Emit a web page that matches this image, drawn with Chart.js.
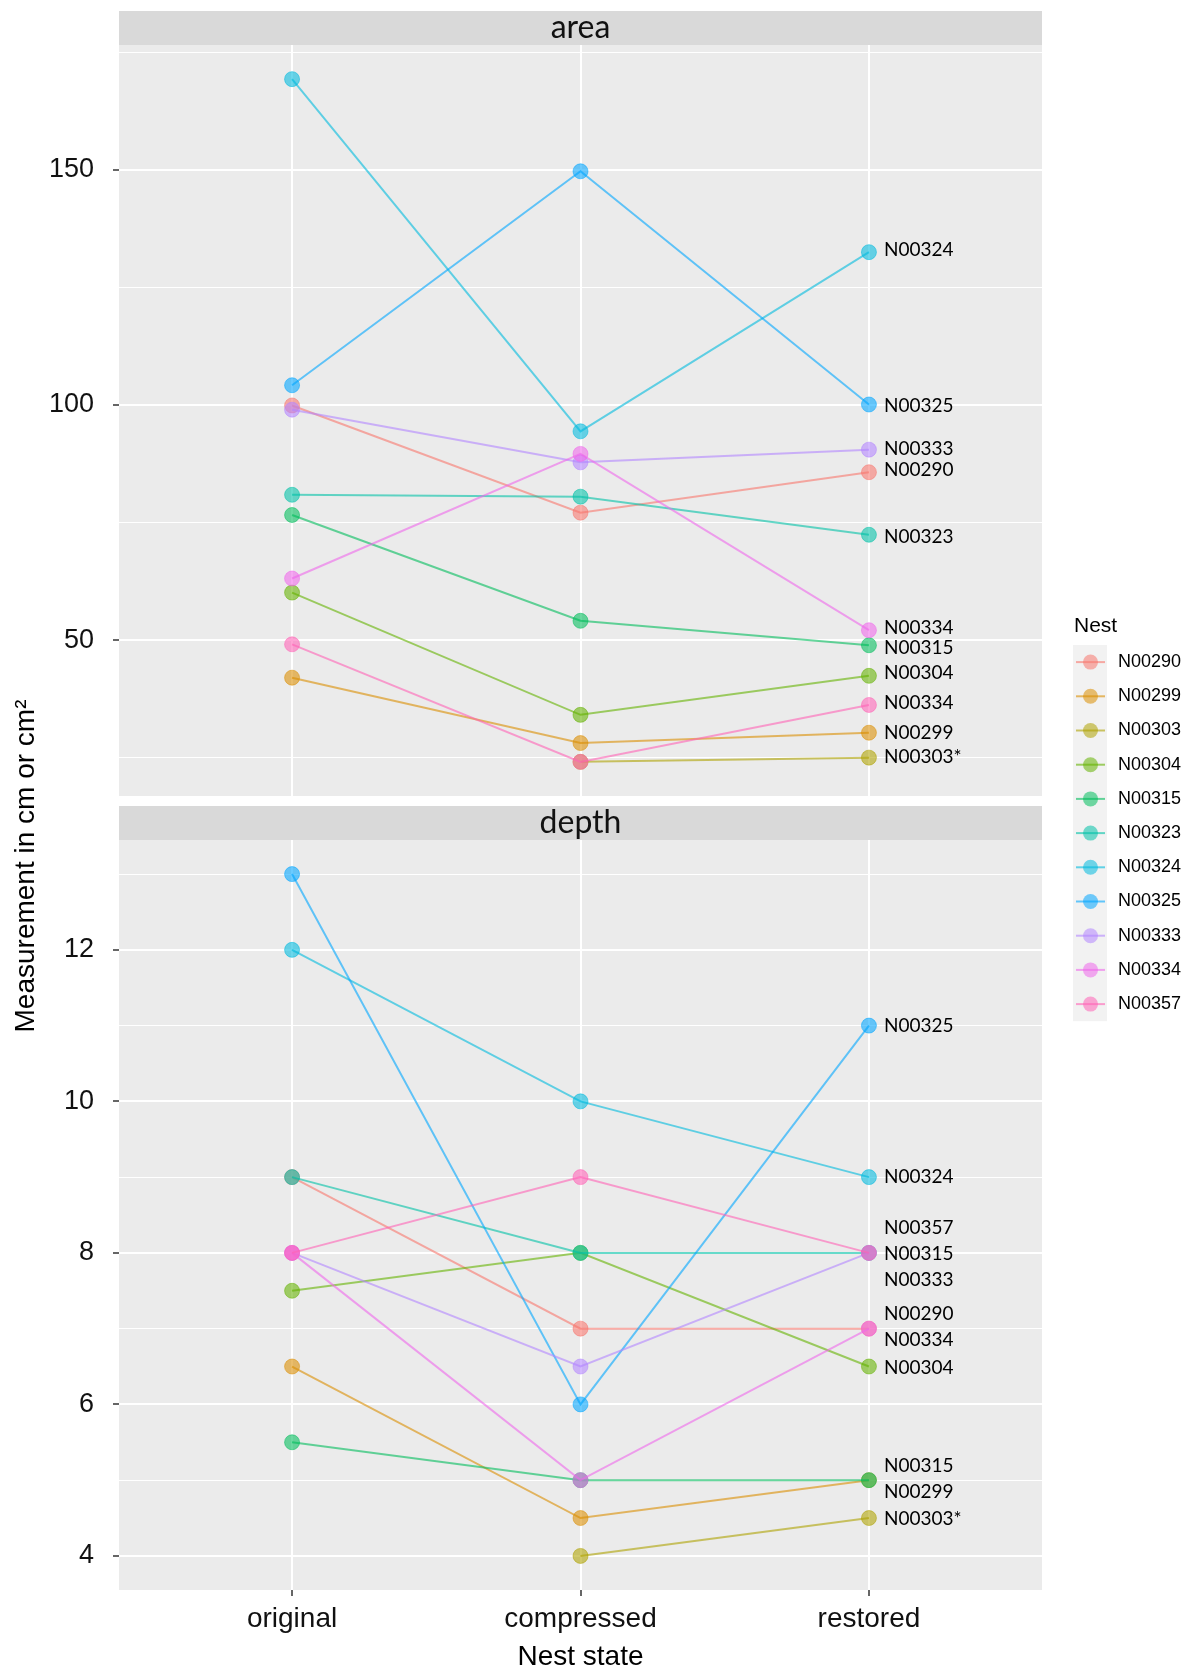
<!DOCTYPE html>
<html>
<head>
<meta charset="utf-8">
<script src="https://cdn.jsdelivr.net/npm/chart.js@4/dist/chart.umd.min.js"></script>
<style>
  html, body { margin: 0; padding: 0; background: #fff; }
  #wrap { position: relative; width: 1192px; height: 1674px; }
  canvas { position: absolute; left: 0; top: 0; }
</style>
</head>
<body>
<div id="wrap">
  <canvas id="areaChart" width="1192" height="1674"></canvas>
  <canvas id="depthChart" width="1192" height="1674"></canvas>
</div>
<script>
const states = ['original', 'compressed', 'restored'];
const nests = ['N00290', 'N00299', 'N00303', 'N00304', 'N00315', 'N00323', 'N00324', 'N00325', 'N00333', 'N00334', 'N00357'];
const nestColors = ['#F8766D', '#DB8E00', '#AEA200', '#64B200', '#00BD5C', '#00C1A7', '#00BADE', '#00A6FF', '#B385FF', '#EF67EB', '#FF63B6'];

// area values per nest, one array per state
const areaOriginal   = [99.9, 42.0, null, 60.1, 76.6, 80.9, 169.3, 104.2, 99.0, 63.1, 49.1];
const areaCompressed = [77.1, 28.1, 24.1, 34.1, 54.1, 80.5, 94.4, 149.7, 87.8, 89.6, 24.1];
const areaRestored   = [85.7, 30.3, 25.0, 42.4, 48.9, 72.4, 132.5, 100.1, 90.5, 52.1, 36.2];

// depth values per nest
const depthOriginal   = [9, 6.5, null, 7.5, 5.5, 9, 12, 13, 8, 8, 8];
const depthCompressed = [7, 4.5, 4, 8, 5, 8, 10, 6, 6.5, 5, 9];
const depthRestored   = [7, 5, 4.5, 6.5, 5, 8, 9, 11, 8, 7, 8];

const areaTicks = [50, 100, 150];
const depthTicks = [4, 6, 8, 10, 12];

// end labels (text as printed in the figure) and the value they sit at
const areaLabelText = ['N00324', 'N00325', 'N00333', 'N00290', 'N00323', 'N00334', 'N00315', 'N00304', 'N00334', 'N00299', 'N00303*'];
const areaLabelAt   = [132.9, 99.9, 90.7, 86.1, 72.0, 52.6, 48.3, 43.1, 36.7, 30.3, 25.2];
const depthLabelText = ['N00325', 'N00324', 'N00357', 'N00315', 'N00333', 'N00290', 'N00334', 'N00304', 'N00315', 'N00299', 'N00303*'];
const depthLabelAt   = [11, 9, 8.33, 7.99, 7.64, 7.19, 6.85, 6.48, 5.19, 4.85, 4.49];

function alpha(hex, a) {
  const n = parseInt(hex.slice(1), 16);
  return `rgba(${n >> 16}, ${(n >> 8) & 255}, ${n & 255}, ${a})`;
}

function makeDatasets(orig, comp, rest) {
  return nests.map((name, i) => ({
    label: name,
    data: [orig[i], comp[i], rest[i]].map((v, x) => ({ x: x, y: v })),
    borderColor: alpha(nestColors[i], 0.6),
    borderWidth: 2,
    pointBackgroundColor: alpha(nestColors[i], 0.58),
    pointBorderColor: alpha(nestColors[i], 0.5),
    pointBorderWidth: 1,
    pointRadius: 7.5,
    order: -i,
  }));
}

// ggplot style: 5% padding on the data range
function paddedRange(...lists) {
  const vals = lists.flat().filter(v => v !== null);
  const lo = Math.min(...vals), hi = Math.max(...vals);
  const pad = (hi - lo) * 0.05;
  return [lo - pad, hi + pad];
}

function withMinor(major, lo, hi) {
  const half = (major[1] - major[0]) / 2;
  const out = [];
  for (let v = major[0] - 2 * half; v <= major[major.length - 1] + 2 * half; v += half) {
    if (v >= lo && v <= hi) out.push({ value: v, minor: !major.includes(v) });
  }
  return out;
}

function panelPlugin(title, labels, labelAt) {
  return {
    id: 'panel_' + title,
    beforeDraw(chart) {
      const { ctx, chartArea: a } = chart;
      const stripH = 34;
      ctx.save();
      ctx.fillStyle = '#EBEBEB';
      ctx.fillRect(a.left, a.top, a.right - a.left, a.bottom - a.top);
      ctx.fillStyle = '#D9D9D9';
      ctx.fillRect(a.left, a.top - stripH, a.right - a.left, stripH);
      ctx.fillStyle = '#111';
      ctx.font = '32px Lato';
      ctx.textAlign = 'center';
      ctx.textBaseline = 'middle';
      ctx.fillText(title, (a.left + a.right) / 2, a.top - stripH / 2);
      ctx.restore();
    },
    afterDatasetsDraw(chart) {
      const { ctx } = chart;
      const xs = chart.scales.x, ys = chart.scales.y;
      const x = xs.getPixelForValue(states.length - 1) + 15;
      ctx.save();
      ctx.font = '19px Lato';
      ctx.fillStyle = '#000';
      ctx.textAlign = 'left';
      ctx.textBaseline = 'middle';
      labels.forEach((t, i) => ctx.fillText(t, x, ys.getPixelForValue(labelAt[i])));
      ctx.restore();
    }
  };
}

// y title across both panels plus the legend on the right
const extrasPlugin = {
  id: 'extras',
  afterDraw(chart) {
    const { ctx } = chart;
    ctx.save();
    ctx.translate(26, 866);
    ctx.rotate(-Math.PI / 2);
    ctx.fillStyle = '#000';
    ctx.font = '28px "Liberation Sans"';
    ctx.textAlign = 'center';
    ctx.textBaseline = 'middle';
    ctx.fillText('Measurement in cm or cm\u00B2', 0, 0);
    ctx.restore();

    ctx.save();
    ctx.fillStyle = '#000';
    ctx.font = '21px "Liberation Sans"';
    ctx.textBaseline = 'middle';
    ctx.fillText('Nest', 1074, 626);
    const top = 645, step = 34.2;
    ctx.fillStyle = '#F2F2F2';
    ctx.fillRect(1073, top, 34, step * nests.length);
    ctx.font = '18px "Liberation Sans"';
    nests.forEach((name, i) => {
      const cy = top + step * (i + 0.5);
      ctx.strokeStyle = alpha(nestColors[i], 0.6);
      ctx.lineWidth = 2;
      ctx.beginPath();
      ctx.moveTo(1076, cy);
      ctx.lineTo(1105, cy);
      ctx.stroke();
      ctx.fillStyle = alpha(nestColors[i], 0.55);
      ctx.beginPath();
      ctx.arc(1090.5, cy, 7.5, 0, Math.PI * 2);
      ctx.fill();
      ctx.fillStyle = '#000';
      ctx.fillText(name, 1118, cy);
    });
    ctx.restore();
  }
};

function yAxis(ticks, range) {
  return {
    type: 'linear',
    min: range[0],
    max: range[1],
    afterBuildTicks: s => { s.ticks = withMinor(ticks, range[0], range[1]); },
    afterFit: s => { s.width = 119; },
    border: { display: false },
    grid: {
      color: '#fff',
      lineWidth: c => (c.tick && c.tick.minor ? 1 : 2),
      tickLength: 6,
      tickWidth: 1.5,
      tickColor: c => (c.tick && c.tick.minor ? 'rgba(0,0,0,0)' : '#333'),
    },
    ticks: {
      padding: 19,
      color: '#111',
      font: { family: 'Liberation Sans', size: 27 },
      callback: (v, i, t) => (t[i].minor ? '' : v),
    },
  };
}

function xAxis(showLabels) {
  return {
    type: 'linear',
    min: -0.6,
    max: 2.6,
    afterBuildTicks: s => { s.ticks = states.map((_, i) => ({ value: i })); },
    afterFit: s => { s.height = showLabels ? 84 : 0; },
    border: { display: false },
    grid: { color: '#fff', lineWidth: 2, drawTicks: showLabels, tickLength: 6, tickWidth: 1.5, tickColor: '#333' },
    ticks: {
      display: showLabels,
      autoSkip: false,
      maxRotation: 0,
      padding: 6,
      color: '#111',
      font: { family: 'Liberation Sans', size: 28 },
      callback: v => states[v],
    },
    title: {
      display: showLabels,
      text: 'Nest state',
      color: '#000',
      font: { family: 'Liberation Sans', size: 28 },
      padding: { top: 0, bottom: 0 },
    },
  };
}

function makeChart(id, datasets, ticks, range, padTop, padBottom, showX, plugins) {
  return new Chart(document.getElementById(id), {
    type: 'line',
    data: { datasets: datasets },
    options: {
      responsive: false,
      animation: false,
      layout: { padding: { top: padTop, bottom: padBottom, left: 0, right: 150 } },
      plugins: { legend: { display: false }, tooltip: { enabled: false } },
      scales: { x: xAxis(showX), y: yAxis(ticks, range) },
    },
    plugins: plugins,
  });
}

makeChart('areaChart', makeDatasets(areaOriginal, areaCompressed, areaRestored),
  areaTicks, paddedRange(areaOriginal, areaCompressed, areaRestored), 45, 878, false,
  [panelPlugin('area', areaLabelText, areaLabelAt)]);

makeChart('depthChart', makeDatasets(depthOriginal, depthCompressed, depthRestored),
  depthTicks, paddedRange(depthOriginal, depthCompressed, depthRestored), 840, 0, true,
  [panelPlugin('depth', depthLabelText, depthLabelAt), extrasPlugin]);
</script>
</body>
</html>
